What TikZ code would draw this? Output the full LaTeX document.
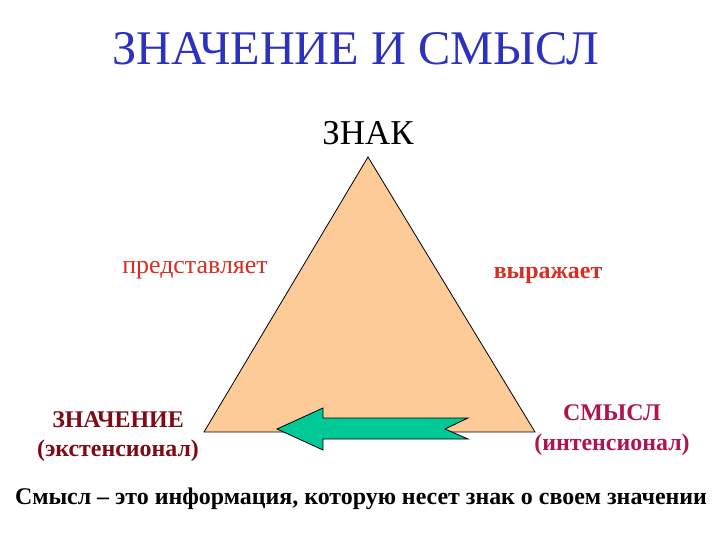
\documentclass[tikz,border=0pt]{standalone}
\usepackage{fontspec}
\setmainfont{Liberation Serif}
\definecolor{titleblue}{RGB}{45,50,190}
\definecolor{peach}{RGB}{253,203,152}
\definecolor{teal}{RGB}{0,200,150}
\definecolor{redtxt}{RGB}{215,45,35}
\definecolor{darkred}{RGB}{125,10,20}
\definecolor{crimson}{RGB}{175,20,80}
\begin{document}
\begin{tikzpicture}[x=1bp,y=-1bp,
  lbl/.style={inner sep=0pt, anchor=center, align=center}]
\useasboundingbox (0,0) rectangle (720,540);
\fill[white] (0,0) rectangle (720,540);
% triangle
\coordinate (apex) at (368,157);
\coordinate (bl) at (204,432);
\coordinate (br) at (535,432);
\filldraw[fill=peach, draw=black, line width=0.8bp] (apex) -- (bl) -- (br) -- cycle;
% arrow
\filldraw[fill=teal, draw=black, line width=0.8bp]
  (277,429) -- (323,408) -- (323,418) -- (468,418) -- (445,429) -- (468,439) -- (323,439) -- (323,450) -- cycle;
% texts
\node[lbl, text=titleblue, font=\rmfamily\fontsize{48.5}{52}\selectfont] (title) at (356,49) {ЗНАЧЕНИЕ И СМЫСЛ};
\node[lbl, font=\rmfamily\fontsize{35}{38}\selectfont] (znak) at (368,133) {ЗНАК};
\node[lbl, text=redtxt, font=\rmfamily\fontsize{26}{30}\selectfont] (pred) at (195,270) {представляет};
\node[lbl, text=redtxt, font=\rmfamily\bfseries\fontsize{24}{28}\selectfont] (vyr) at (548,275) {выражает};
\node[lbl, text=darkred, font=\rmfamily\bfseries\fontsize{24}{29}\selectfont] (zn) at (118,437) {ЗНАЧЕНИЕ\\(экстенсионал)};
\node[lbl, text=crimson, font=\rmfamily\bfseries\fontsize{24}{30}\selectfont] (sm) at (612,430) {СМЫСЛ\\(интенсионал)};
\node[lbl, font=\rmfamily\bfseries\fontsize{24}{28}\selectfont] (bottom) at (361,499) {Смысл – это информация, которую несет знак о своем значении};
\end{tikzpicture}
\end{document}
